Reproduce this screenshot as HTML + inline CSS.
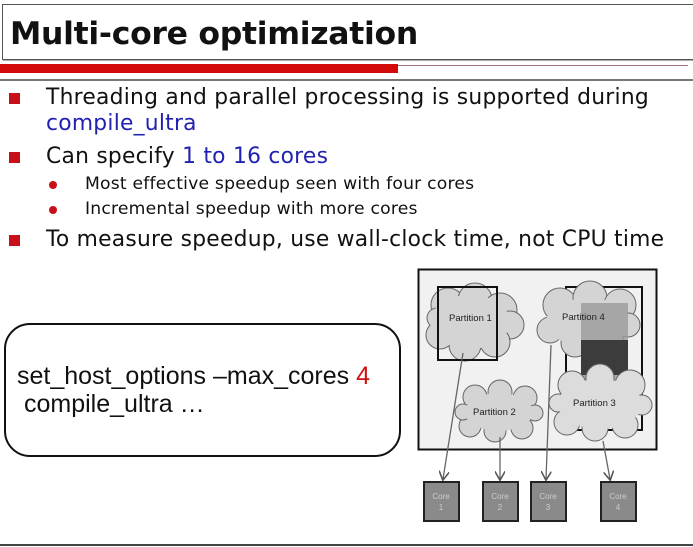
<!DOCTYPE html>
<html><head><style>
body{margin:0;width:693px;height:547px;background:#fff;position:relative;overflow:hidden;font-family:"DejaVu Sans","Liberation Sans",sans-serif;}
.a{position:absolute;white-space:nowrap;}
.sq{position:absolute;width:11px;height:11px;background:#c8101a;}
.dot{position:absolute;width:8px;height:8px;border-radius:50%;background:#c8101a;}
.t{font-size:21.8px;color:#111;letter-spacing:0.25px;}
.s{font-size:17.2px;color:#111;letter-spacing:0.2px;}
.b{color:#2222b0;}
</style></head><body>
<div class="a" style="left:2px;top:4px;width:700px;height:54px;border:1px solid #555;box-shadow:1px 1px 0 #aaa;"></div>
<div class="a" style="left:10px;top:16px;font-size:31.5px;font-weight:bold;color:#111;font-family:'DejaVu Sans',sans-serif;letter-spacing:-0.3px;">Multi-core optimization</div>
<div class="a" style="left:0;top:64px;width:398px;height:9px;background:#d40a0a;"></div>
<div class="a" style="left:398px;top:65px;width:290px;height:1px;background:#a07080;"></div>
<div class="a" style="left:0;top:79px;width:693px;height:2px;background:#777;"></div>

<div class="sq" style="left:9px;top:93px"></div>
<div class="a t" style="left:46px;top:85px">Threading and parallel processing is supported during</div>
<div class="a t b" style="left:46px;top:111px">compile_ultra</div>
<div class="sq" style="left:9px;top:152px"></div>
<div class="a t" style="left:46px;top:144px">Can specify <span class="b">1 to 16 cores</span></div>
<div class="dot" style="left:49px;top:181px"></div>
<div class="a s" style="left:85px;top:174px">Most effective speedup seen with four cores</div>
<div class="dot" style="left:49px;top:206px"></div>
<div class="a s" style="left:85px;top:199px">Incremental speedup with more cores</div>
<div class="sq" style="left:9px;top:235px"></div>
<div class="a t" style="left:46px;top:227px">To measure speedup, use wall-clock time, not CPU time</div>

<div class="a" style="left:4px;top:323px;width:393px;height:130px;border:2px solid #111;border-radius:26px;"></div>
<div class="a" style="left:17px;top:362px;font-size:25px;font-family:'Liberation Sans',sans-serif;color:#111;">set_host_options –max_cores <span style="color:#d01010">4</span></div>
<div class="a" style="left:24px;top:390px;font-size:25px;font-family:'Liberation Sans',sans-serif;color:#111;">compile_ultra …</div>

<svg class="a" style="left:0;top:0" width="693" height="547">
<defs><marker id="ar" markerWidth="8" markerHeight="8" refX="6" refY="4" orient="auto"><path d="M0,0 L7,4 L0,8" fill="none" stroke="#555" stroke-width="1.2"/></marker></defs>
<rect x="418.5" y="269.5" width="238" height="180" fill="#f1f1f1" stroke="#111" stroke-width="2"/>
<g fill="#d4d4d4" stroke="#666" stroke-width="1">
<g><circle cx="448" cy="305" r="17"/><circle cx="475" cy="300" r="17"/><circle cx="500" cy="310" r="17"/><circle cx="510" cy="325" r="14"/><circle cx="495" cy="342" r="15"/><circle cx="465" cy="345" r="16"/><circle cx="440" cy="335" r="14"/><circle cx="437" cy="318" r="10"/></g>
</g>
<ellipse cx="470" cy="322" rx="40" ry="27" fill="#d4d4d4"/>
<rect x="438" y="287" width="59" height="73" fill="none" stroke="#111" stroke-width="2"/>
<rect x="566" y="287" width="76" height="143" fill="none" stroke="#111" stroke-width="2"/>
<g fill="#d4d4d4" stroke="#666"><circle cx="560" cy="305" r="17"/><circle cx="590" cy="298" r="17"/><circle cx="620" cy="305" r="16"/><circle cx="628" cy="325" r="12"/><circle cx="610" cy="342" r="14"/><circle cx="575" cy="343" r="14"/><circle cx="550" cy="330" r="13"/></g>
<ellipse cx="588" cy="322" rx="42" ry="24" fill="#d4d4d4"/>
<rect x="581" y="303" width="47" height="81" fill="#9a9a9a" opacity="0.8"/>
<rect x="581" y="340" width="47" height="35" fill="#3c3c3c"/>
<g fill="#dcdcdc" stroke="#666"><circle cx="572" cy="385" r="14"/><circle cx="600" cy="378" r="14"/><circle cx="630" cy="385" r="15"/><circle cx="642" cy="405" r="10"/><circle cx="625" cy="425" r="13"/><circle cx="595" cy="428" r="13"/><circle cx="567" cy="422" r="13"/><circle cx="558" cy="403" r="9"/></g>
<ellipse cx="600" cy="404" rx="42" ry="25" fill="#dcdcdc"/>
<g fill="#d4d4d4" stroke="#666"><circle cx="475" cy="397" r="12"/><circle cx="500" cy="392" r="12"/><circle cx="525" cy="398" r="12"/><circle cx="535" cy="413" r="8"/><circle cx="522" cy="428" r="11"/><circle cx="495" cy="431" r="11"/><circle cx="470" cy="426" r="11"/><circle cx="463" cy="412" r="8"/></g>
<ellipse cx="499" cy="412" rx="34" ry="19" fill="#d4d4d4"/>
<g font-family="Liberation Sans,sans-serif" font-size="9.5" fill="#222">
<text x="449" y="321">Partition 1</text><text x="562" y="320">Partition 4</text>
<text x="573" y="406">Partition 3</text><text x="473" y="415">Partition 2</text></g>
<g stroke="#666" stroke-width="1.3" marker-end="url(#ar)">
<line x1="463" y1="353" x2="443" y2="479"/><line x1="500" y1="437" x2="500" y2="479"/>
<line x1="551" y1="345" x2="546" y2="479"/><line x1="603" y1="441" x2="610" y2="479"/></g>
<g fill="#8a8a8a" stroke="#222" stroke-width="2">
<rect x="424" y="482" width="35" height="39"/><rect x="483" y="482" width="35" height="39"/>
<rect x="531" y="482" width="35" height="39"/><rect x="601" y="482" width="35" height="39"/></g>
<g font-family="Liberation Sans,sans-serif" font-size="8" fill="#ccc" text-anchor="middle">
<text x="441" y="499">Core</text><text x="441" y="510">1</text>
<text x="500" y="499">Core</text><text x="500" y="510">2</text>
<text x="548" y="499">Core</text><text x="548" y="510">3</text>
<text x="618" y="499">Core</text><text x="618" y="510">4</text></g>
<line x1="0" y1="545" x2="693" y2="545" stroke="#444" stroke-width="2"/>
</svg>
</body></html>
